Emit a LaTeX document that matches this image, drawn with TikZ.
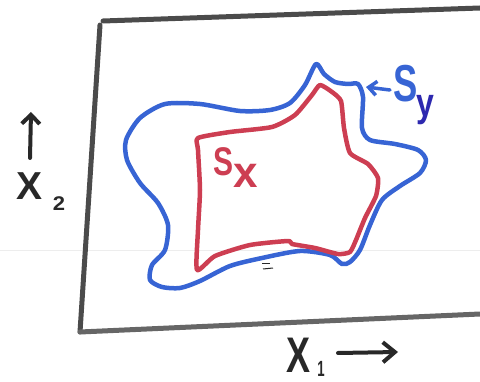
\documentclass[tikz,border=0pt]{standalone}
\usepackage{fontspec}
\usepackage{graphicx}
\setmainfont{Liberation Sans}
\usetikzlibrary{arrows.meta}
\definecolor{framecol}{RGB}{75,75,75}
\definecolor{redpen}{RGB}{205,62,82}
\definecolor{bluepen}{RGB}{55,100,212}
\definecolor{navypen}{RGB}{45,40,175}
\definecolor{inkgray}{RGB}{40,40,40}
\begin{document}
\begin{tikzpicture}[x=1pt,y=-1pt,
  framestroke/.style={draw=framecol,line width=5pt,line cap=round},
  bluestroke/.style={draw=bluepen,line width=4.5pt,line cap=round,line join=round},
  redstroke/.style={draw=redpen,line width=4.5pt,line cap=round,line join=round},
  inkarrow/.style={draw=inkgray,line width=4pt,line cap=round},
  lbl/.style={inner sep=0pt,outer sep=0pt,font=\bfseries}]
\useasboundingbox (0,0) rectangle (480,382);
% faint scanner line
\coordinate (fl) at (0,250);
\coordinate (fr) at (480,250);
\draw[gray!14,line width=0.8pt] (fl) -- (fr);
% frame
\coordinate (tl) at (103,21);
\coordinate (tr) at (480,8);
\coordinate (lt) at (100,25);
\coordinate (bl) at (80,332);
\coordinate (br) at (480,314);
\draw[framestroke] (tl) -- (tr);
\draw[framestroke] (lt) -- (bl);
\draw[framestroke,draw=framecol!85] (bl) -- (br);
% blue set S_y
\draw[bluestroke] plot[smooth cycle,tension=0.45] coordinates {
 (316,64) (324,74) (335,82) (348,84) (358,84) (363,97) (362,128) (370,140)
 (395,144) (418,150) (426,160) (420,173) (400,186) (382,200) (370,225)
 (360,250) (350,262) (342,264) (330,255) (300,251) (262,258) (230,266)
 (200,281) (180,288) (162,287) (150,280) (152,265) (165,250) (168,225)
 (158,203) (140,183) (127,160) (126,140) (140,118) (165,104) (200,104)
 (240,111) (270,110) (290,103) (305,85)};
% red set S_x
\draw[redstroke] plot[smooth cycle,tension=0.35] coordinates {
 (198,138) (230,132) (272,127) (295,115) (312,95) (320,85) (332,92) (341,101)
 (344,128) (350,153) (368,164) (378,178) (376,196) (365,218) (356,240)
 (350,252) (338,254) (315,248) (292,244) (288,241) (250,245) (215,256)
 (197,270) (198,230) (200,190) (198,150)};
% small mark
\coordinate (m1a) at (262,264); \coordinate (m1b) at (270,264);
\coordinate (m2a) at (263,269); \coordinate (m2b) at (273,268);
\draw[inkgray,line width=1pt] (m1a) -- (m1b);
\draw[inkgray,line width=1pt] (m2a) -- (m2b);
% labels
\node[lbl,text=redpen] (sx) at (236,168)
  {\scalebox{0.75}[1]{\fontsize{40}{40}\selectfont S}\raisebox{-12pt}{\fontsize{44}{44}\selectfont x}};
\node[lbl,text=bluepen] (sy) at (406,84)
  {\scalebox{0.7}[1]{\fontsize{52}{52}\selectfont S}};
\node[lbl,text=navypen] (sysub) at (425,110)
  {\scalebox{0.8}[1]{\fontsize{40}{40}\selectfont y}};
\coordinate (syarrowtail) at (390,90);
\coordinate (syarrowtip) at (366,87);
\draw[draw=bluepen,line width=3.5pt,line cap=round,-{Straight Barb[length=8pt,width=14pt]}] (syarrowtail) -- (syarrowtip);
% axis labels
\node[lbl,text=inkgray] (x2) at (30,186) {\fontsize{39}{39}\selectfont X};
\node[lbl,text=inkgray] (x2sub) at (59,204) {\scalebox{1}[0.9]{\fontsize{22}{22}\selectfont 2}};
\coordinate (x2tail) at (30,158);
\coordinate (x2tip) at (31,112);
\draw[inkarrow,-{Straight Barb[length=9pt,width=18pt]}] (x2tail) -- (x2tip);
\node[lbl,text=inkgray] (x1) at (299,355) {\scalebox{0.72}[1]{\fontsize{50}{50}\selectfont X}};
\node[lbl,text=inkgray] (x1sub) at (321,369) {\scalebox{0.6}[1]{\fontsize{22}{22}\selectfont 1}};
\coordinate (x1tail) at (338,353);
\coordinate (x1tip) at (398,352);
\draw[inkarrow,-{Straight Barb[length=12pt,width=20pt]}] (x1tail) -- (x1tip);
\end{tikzpicture}
\end{document}
